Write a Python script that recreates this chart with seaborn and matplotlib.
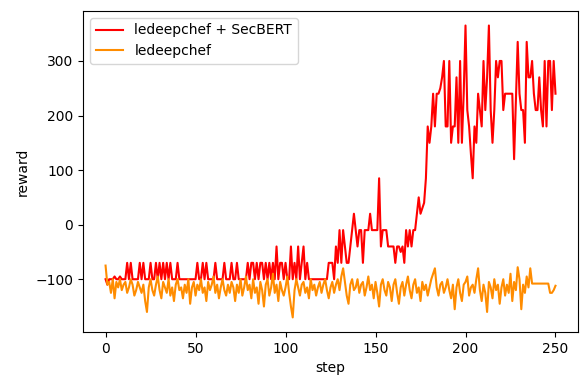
import numpy as np
import pandas as pd
import matplotlib
matplotlib.use("Agg")
import matplotlib.pyplot as plt
import seaborn as sns

steps = list(range(251))

reward_secbert = [
    -100, -110, -100, -100, -100, -95, -100, -100, -95, -100,
    -100, -100, -70, -100, -70, -100, -100, -100, -100, -70,
    -100, -70, -100, -100, -100, -70, -100, -100, -70, -100,
    -70, -100, -70, -100, -70, -100, -70, -100, -100, -100,
    -70, -100, -100, -100, -100, -100, -100, -100, -100, -100,
    -100, -70, -100, -100, -70, -100, -70, -100, -100, -100,
    -100, -70, -100, -100, -100, -100, -70, -100, -100, -100,
    -70, -100, -100, -70, -100, -100, -100, -100, -100, -70,
    -100, -70, -70, -100, -70, -100, -70, -70, -100, -70,
    -100, -70, -100, -70, -100, -40, -100, -70, -70, -100,
    -70, -100, -100, -40, -100, -70, -100, -40, -100, -70,
    -40, -100, -70, -100, -100, -100, -100, -100, -100, -100,
    -100, -100, -100, -100, -70, -70, -70, -100, -40, -70,
    -10, -70, -10, -40, -70, -70, -40, -10, 20, -10,
    -40, -10, -10, -70, -10, -10, -10, 20, -10, -10,
    -10, -10, 85, -40, -10, -10, -10, -40, -40, -40,
    -40, -70, -40, -40, -50, -40, -70, -10, -40, -10,
    -40, -10, -10, 20, 50, 20, 30, 40, 85, 180,
    150, 180, 240, 180, 240, 240, 250, 270, 300, 180,
    180, 300, 150, 180, 180, 270, 150, 300, 150, 240,
    365, 210, 180, 130, 85, 180, 150, 240, 210, 180,
    300, 210, 270, 365, 210, 150, 210, 300, 270, 300,
    300, 210, 240, 240, 240, 240, 240, 120, 230, 335,
    240, 210, 210, 150, 335, 270, 270, 300, 240, 210,
    210, 270, 210, 180, 300, 180, 300, 300, 210, 300,
    240,
]

reward_base = [
    -75, -110, -105, -125, -100, -135, -105, -115, -100, -120,
    -110, -105, -125, -115, -100, -110, -130, -120, -105, -115,
    -125, -110, -140, -160, -115, -100, -120, -130, -110, -95,
    -120, -135, -105, -115, -125, -100, -130, -115, -140, -110,
    -100, -120, -115, -135, -110, -125, -100, -145, -115, -105,
    -130, -110, -120, -100, -125, -115, -140, -105, -120, -110,
    -95, -125, -110, -135, -115, -100, -120, -130, -110, -125,
    -105, -115, -140, -110, -125, -100, -130, -115, -95, -120,
    -110, -135, -100, -125, -115, -145, -105, -120, -150, -110,
    -100, -130, -115, -90, -125, -110, -140, -105, -120, -130,
    -115, -95, -125, -150, -170, -120, -100, -115, -130, -110,
    -105, -125, -115, -135, -100, -120, -110, -130, -115, -105,
    -125, -110, -100, -120, -135, -115, -105, -125, -110, -100,
    -120, -95, -80, -105, -130, -145, -110, -100, -120, -115,
    -100, -125, -110, -105, -130, -115, -95, -120, -110, -135,
    -105, -125, -150, -110, -100, -120, -130, -105, -115, -140,
    -110, -100, -125, -145, -115, -105, -130, -110, -95, -120,
    -135, -110, -100, -125, -115, -140, -105, -120, -110, -130,
    -115, -100, -90, -80, -115, -130, -110, -105, -125, -115,
    -100, -120, -135, -110, -155, -115, -100, -125, -140, -110,
    -105, -95, -130, -115, -110, -125, -100, -80, -120, -140,
    -110, -125, -160, -105, -115, -135, -100, -120, -110, -145,
    -115, -100, -130, -110, -125, -90, -140, -105, -120, -78,
    -100, -155, -110, -125, -95, -115, -80, -108, -108, -108,
    -108, -108, -108, -108, -108, -108, -108, -125, -125, -120,
    -112,
]

labels = ["ledeepchef + SecBERT", "ledeepchef"]
colors = ["#ff0000", "#ff8c00"]

df = pd.concat([
    pd.DataFrame({"step": steps, "reward": reward_secbert, "model": labels[0]}),
    pd.DataFrame({"step": steps, "reward": reward_base, "model": labels[1]}),
], ignore_index=True)

fig, ax = plt.subplots(figsize=(5.85, 3.76), dpi=100)
fig.subplots_adjust(left=0.142, right=0.988, top=0.971, bottom=0.117)

sns.lineplot(data=df, x="step", y="reward", hue="model", hue_order=labels,
             palette=dict(zip(labels, colors)), linewidth=1.5, ax=ax)

ax.set_xticks([0, 50, 100, 150, 200, 250])
ax.set_yticks([-100, 0, 100, 200, 300])
ax.legend(loc="upper left", fontsize=10)
ax.set_xlabel("step")
ax.set_ylabel("reward")

fig.savefig("out.png", dpi=100)
